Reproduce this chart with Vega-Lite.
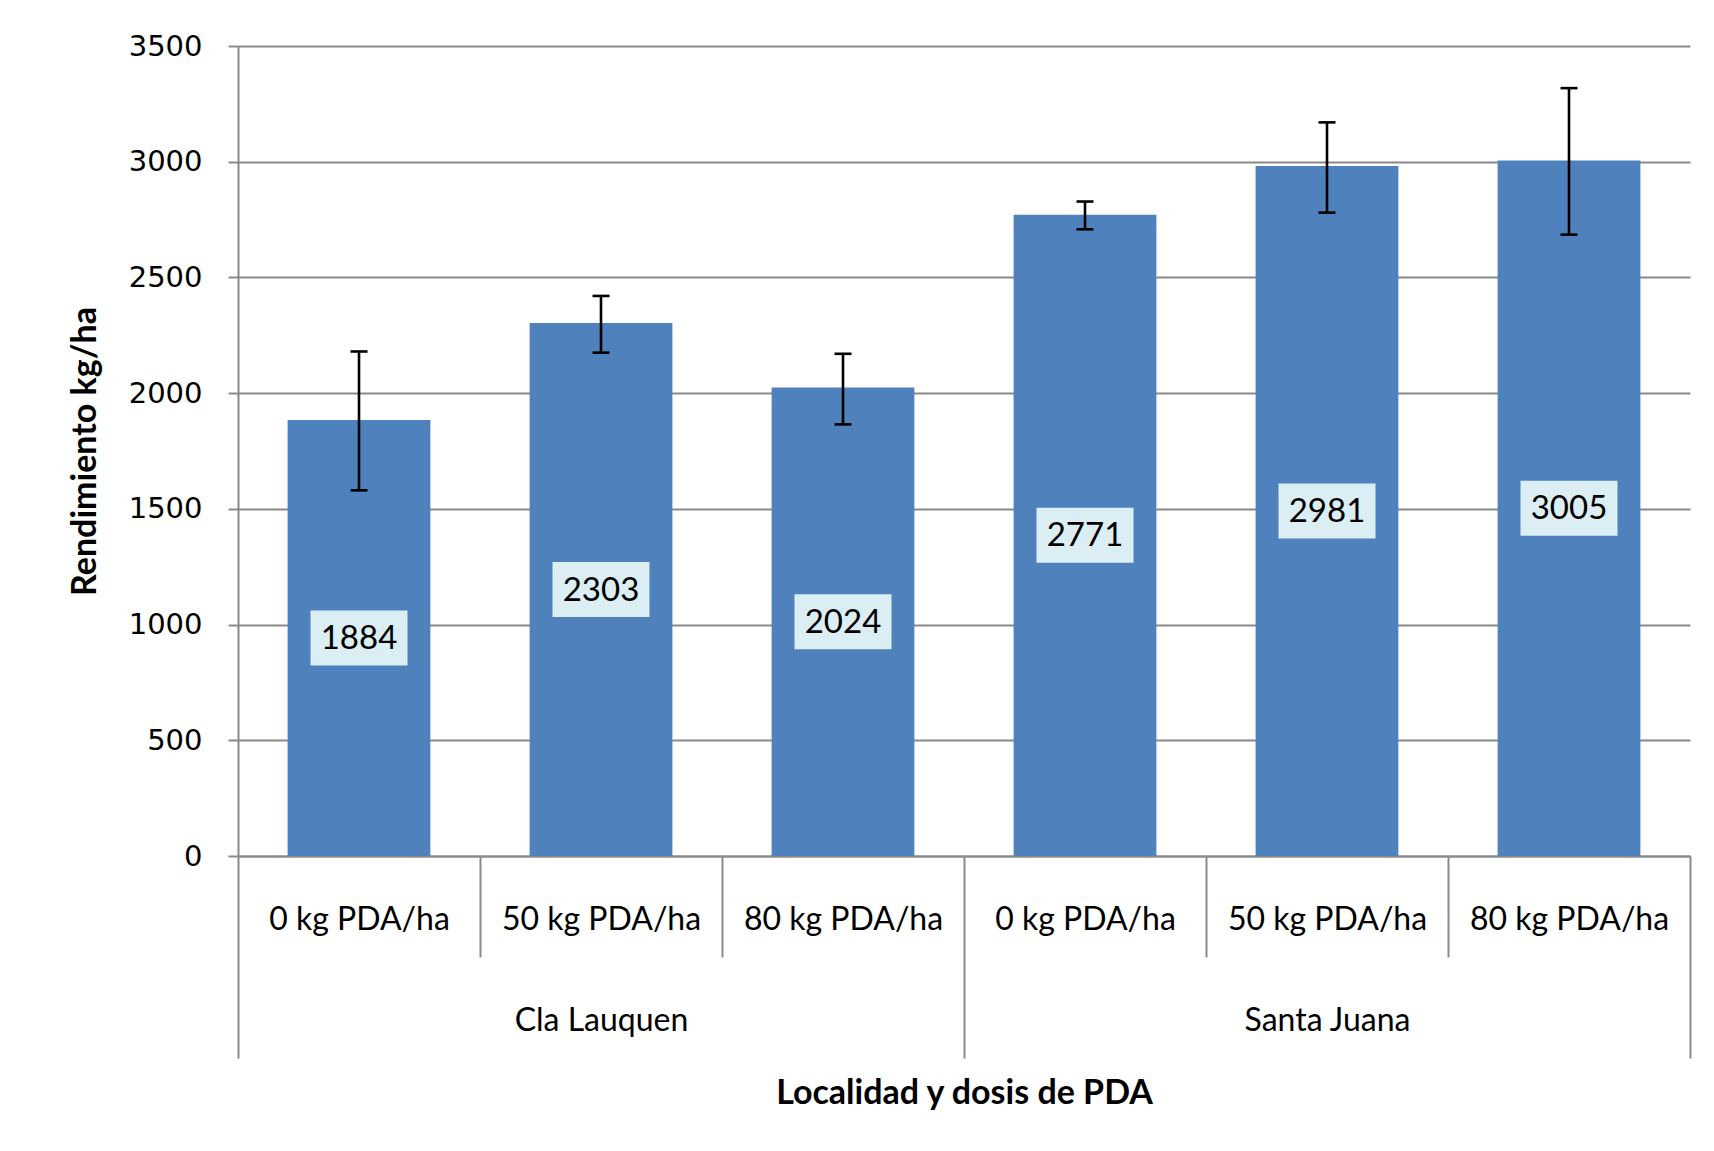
{
  "$schema": "https://vega.github.io/schema/vega-lite/v6.json",
  "width": 1452,
  "height": 810,
  "autosize": {"type": "none"},
  "padding": {"left": 238, "top": 46, "right": 24, "bottom": 295},
  "background": "white",
  "config": {"view": {"stroke": null}, "font": "Lato"},
  "data": {
    "values": [
      {"cat": "Cla Lauquen|0 kg PDA/ha", "rend": 1884, "lo": 1580, "hi": 2180},
      {"cat": "Cla Lauquen|50 kg PDA/ha", "rend": 2303, "lo": 2175, "hi": 2420},
      {"cat": "Cla Lauquen|80 kg PDA/ha", "rend": 2024, "lo": 1865, "hi": 2170},
      {"cat": "Santa Juana|0 kg PDA/ha", "rend": 2771, "lo": 2708, "hi": 2828},
      {"cat": "Santa Juana|50 kg PDA/ha", "rend": 2981, "lo": 2780, "hi": 3170},
      {"cat": "Santa Juana|80 kg PDA/ha", "rend": 3005, "lo": 2685, "hi": 3318}
    ]
  },
  "encoding": {
    "x": {
      "field": "cat",
      "type": "nominal",
      "sort": null,
      "scale": {"paddingInner": 0, "paddingOuter": 0},
      "axis": {
        "title": "Localidad y dosis de PDA",
        "titleFont": "Lato",
        "titleFontSize": 34,
        "titleFontWeight": "bold",
        "titleColor": "black",
        "titlePadding": 20,
        "labelFont": "Lato",
        "labelFontSize": 32,
        "labelColor": "black",
        "labelAngle": 0,
        "labelBaseline": "top",
        "labelPadding": {"condition": {"test": "indexof(datum.value + '', '80 kg') >= 0", "value": -154}, "value": -53},
        "labelLineHeight": 101,
        "labelLimit": 0,
        "labelOverlap": false,
        "labelExpr": "datum.value == null ? '' : (indexof(datum.value, '50 kg') >= 0 ? [split(datum.value, '|')[1], split(datum.value, '|')[0]] : split(datum.value, '|')[1])",
        "tickBand": "extent",
        "tickColor": "#8a8a8a",
        "tickWidth": 2,
        "tickSize": {"condition": {"test": "(datum.extra ? true : indexof(datum.value + '', '80 kg') >= 0)", "value": 202}, "value": 101},
        "domainColor": "#8a8a8a",
        "domainWidth": 2,
        "grid": false
      }
    }
  },
  "layer": [
    {
      "layer": [
        {
          "mark": {"type": "bar", "color": "#4F81BD", "width": {"band": 0.59}},
          "encoding": {
            "y": {
              "field": "rend",
              "type": "quantitative",
              "title": "Rendimiento kg/ha",
              "scale": {"domain": [0, 3500]},
              "axis": {
                "values": [0, 500, 1000, 1500, 2000, 2500, 3000, 3500],
                "format": "d",
                "titleFont": "Lato",
                "titleFontSize": 34,
                "titleFontWeight": "bold",
                "titleColor": "black",
                "titlePadding": 26,
                "labelFont": "DejaVu Sans",
                "labelFontSize": 29,
                "labelColor": "black",
                "labelPadding": 26,
                "tickSize": 10,
                "tickColor": "#8a8a8a",
                "tickWidth": 2,
                "domainColor": "#8a8a8a",
                "domainWidth": 2,
                "grid": true,
                "gridColor": "#8a8a8a",
                "gridWidth": 2
              }
            }
          }
        },
        {
          "mark": {"type": "rule", "color": "black", "strokeWidth": 2.6},
          "encoding": {
            "y": {"field": "lo", "type": "quantitative", "title": "Rendimiento kg/ha"},
            "y2": {"field": "hi"}
          }
        },
        {
          "mark": {"type": "tick", "color": "black", "thickness": 2.6, "size": 17, "opacity": 1},
          "encoding": {
            "y": {"field": "lo", "type": "quantitative", "title": "Rendimiento kg/ha"}
          }
        },
        {
          "mark": {"type": "tick", "color": "black", "thickness": 2.6, "size": 17, "opacity": 1},
          "encoding": {
            "y": {"field": "hi", "type": "quantitative", "title": "Rendimiento kg/ha"}
          }
        }
      ]
    },
    {
      "encoding": {
        "y": {"field": "rend", "type": "quantitative", "scale": {"domain": [0, 7000]}, "axis": null}
      },
      "layer": [
        {
          "mark": {"type": "point", "shape": "M-1,-0.567H1V0.567H-1Z", "size": 9409, "filled": true, "color": "#DBEEF4", "opacity": 1, "strokeWidth": 0}
        },
        {
          "mark": {"type": "text", "font": "Lato", "fontSize": 33, "color": "black", "baseline": "middle", "dy": 1},
          "encoding": {"text": {"field": "rend", "type": "quantitative", "format": "d"}}
        }
      ]
    }
  ],
  "resolve": {"scale": {"y": "independent"}}
}
